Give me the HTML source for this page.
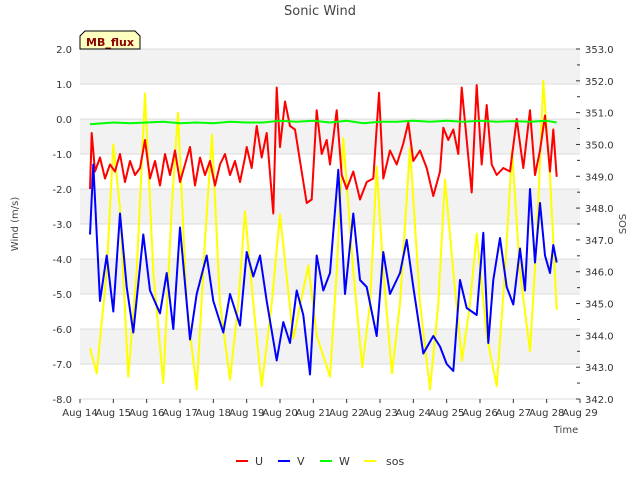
<!DOCTYPE html>
<html><head><meta charset="utf-8"><style>
body{margin:0;background:#fff;font-family:"Liberation Sans","DejaVu Sans",sans-serif}
</style></head><body>
<svg id="chart" width="640" height="480" xmlns="http://www.w3.org/2000/svg" font-family="DejaVu Sans, Liberation Sans, sans-serif" font-size="10">
<text x="320" y="15" text-anchor="middle" font-size="13" fill="#444">Sonic Wind</text>
<g id="bands"></g><g id="grid"></g><g id="axes"></g><g id="series"></g>
<g>
<path d="M80,49 L80,36 L85,31 L135,31 L140,36 L140,49 Z" fill="#ffffc0" stroke="#000" stroke-width="1"/>
<text x="110" y="46" text-anchor="middle" font-size="11" font-weight="bold" fill="#8b0000">MB_flux</text>
</g>
<text x="566" y="433" text-anchor="middle" fill="#444">Time</text>
<text transform="translate(18,224) rotate(-90)" text-anchor="middle" fill="#444">Wind (m/s)</text>
<text transform="translate(626,224) rotate(-90)" text-anchor="middle" fill="#444">SOS</text>
<g font-size="11">
<g><line x1="236" y1="461" x2="248" y2="461" stroke="#f00" stroke-width="2"/><text x="255" y="465" fill="#333">U</text></g>
<g><line x1="278" y1="461" x2="290" y2="461" stroke="#00f" stroke-width="2"/><text x="297" y="465" fill="#333">V</text></g>
<g><line x1="320" y1="461" x2="332" y2="461" stroke="#0f0" stroke-width="2"/><text x="339" y="465" fill="#333">W</text></g>
<g><line x1="364" y1="461" x2="376" y2="461" stroke="#ff0" stroke-width="2"/><text x="386" y="465" fill="#333">sos</text></g>
</g>
</svg>
<script>
const xTickLabels=["Aug 14","Aug 15","Aug 16","Aug 17","Aug 18","Aug 19","Aug 20","Aug 21","Aug 22","Aug 23","Aug 24","Aug 25","Aug 26","Aug 27","Aug 28","Aug 29"];
const yTicks=[2,1,0,-1,-2,-3,-4,-5,-6,-7,-8];
const y2Ticks=[342,343,344,345,346,347,348,349,350,351,352,353];
const uDays=[14.3,14.35,14.45,14.6,14.75,14.9,15.05,15.2,15.35,15.5,15.65,15.8,15.95,16.1,16.25,16.4,16.55,16.7,16.85,17.0,17.15,17.3,17.45,17.6,17.75,17.9,18.05,18.2,18.35,18.5,18.65,18.8,18.95,19.0,19.15,19.3,19.45,19.6,19.8,19.9,20.0,20.15,20.3,20.45,20.6,20.8,20.95,21.1,21.25,21.4,21.5,21.7,21.85,22.0,22.2,22.4,22.6,22.8,22.97,23.1,23.3,23.5,23.7,23.85,24.0,24.2,24.4,24.6,24.8,24.9,25.05,25.2,25.35,25.45,25.6,25.75,25.9,26.05,26.2,26.35,26.5,26.7,26.9,27.1,27.3,27.5,27.65,27.8,27.95,28.1,28.2,28.3];
const uVals=[-2.0,-0.4,-1.5,-1.1,-1.7,-1.3,-1.5,-1.0,-1.8,-1.2,-1.6,-1.4,-0.6,-1.7,-1.2,-1.9,-1.0,-1.6,-0.9,-1.8,-1.3,-0.8,-1.9,-1.1,-1.6,-1.2,-1.9,-1.3,-1.0,-1.6,-1.2,-1.8,-1.1,-0.8,-1.4,-0.2,-1.1,-0.4,-2.7,0.9,-0.8,0.5,-0.2,-0.3,-1.2,-2.4,-2.3,0.25,-1.0,-0.6,-1.3,0.25,-1.6,-2.0,-1.5,-2.3,-1.8,-1.7,0.75,-1.7,-0.9,-1.3,-0.7,-0.1,-1.2,-0.9,-1.4,-2.2,-1.5,-0.25,-0.6,-0.3,-1.0,0.9,-0.6,-2.1,0.97,-1.3,0.4,-1.3,-1.6,-1.4,-1.5,0.0,-1.4,0.25,-1.6,-0.9,0.1,-1.5,-0.3,-1.65];
const vDays=[14.3,14.4,14.6,14.8,15.0,15.2,15.4,15.6,15.9,16.1,16.4,16.6,16.8,17.0,17.3,17.5,17.8,18.0,18.3,18.5,18.8,19.0,19.2,19.4,19.6,19.9,20.1,20.3,20.5,20.7,20.9,21.1,21.3,21.5,21.75,21.95,22.2,22.4,22.6,22.9,23.1,23.3,23.6,23.8,24.0,24.3,24.6,24.8,25.0,25.2,25.4,25.6,25.9,26.1,26.25,26.4,26.6,26.8,27.0,27.2,27.35,27.5,27.65,27.8,27.95,28.1,28.2,28.3];
const vVals=[-3.3,-1.3,-5.2,-3.9,-5.5,-2.7,-4.8,-6.1,-3.3,-4.9,-5.55,-4.4,-6.0,-3.1,-6.3,-5.0,-3.9,-5.2,-6.1,-5.0,-5.9,-3.8,-4.5,-3.9,-5.2,-6.9,-5.8,-6.4,-4.9,-5.6,-7.3,-3.9,-4.9,-4.4,-1.45,-5.0,-2.7,-4.6,-4.8,-6.2,-3.8,-5.0,-4.4,-3.45,-4.8,-6.7,-6.2,-6.5,-7.0,-7.2,-4.6,-5.4,-5.6,-3.25,-6.4,-4.6,-3.4,-4.8,-5.3,-3.7,-4.9,-2.0,-4.1,-2.4,-3.9,-4.4,-3.6,-4.1];
const wDays=[14.3,15.0,15.5,16.0,16.5,17.0,17.5,18.0,18.5,19.0,19.5,20.0,20.5,21.0,21.5,22.0,22.5,23.0,23.5,24.0,24.5,25.0,25.5,26.0,26.5,27.0,27.5,28.0,28.3];
const wVals=[-0.15,-0.1,-0.12,-0.1,-0.08,-0.12,-0.1,-0.12,-0.08,-0.1,-0.1,-0.05,-0.08,-0.05,-0.1,-0.05,-0.12,-0.08,-0.08,-0.05,-0.08,-0.05,-0.08,-0.05,-0.08,-0.06,-0.08,-0.05,-0.1];
const sosDays=[14.3,14.5,14.8,15.0,15.2,15.45,15.7,15.95,16.2,16.5,16.75,16.94,17.2,17.5,17.75,17.96,18.2,18.5,18.75,18.95,19.2,19.45,19.75,20.0,20.4,20.85,21.1,21.5,21.7,21.9,22.2,22.47,22.7,22.9,23.1,23.36,23.6,23.9,24.2,24.5,24.75,24.95,25.2,25.46,25.7,25.9,26.2,26.5,26.75,26.96,27.2,27.5,27.7,27.9,28.1,28.3];
const sosVals=[343.6,342.8,346,350.0,348,342.7,346,351.6,346,342.5,348,351.0,345,342.3,347,350.3,345,342.6,345,347.9,345,342.4,345,347.8,343.9,346.2,344,342.7,346,350.2,346,343.0,345,349.3,346,342.8,345,349.9,345,342.3,345,348.9,346,343.2,345,347.2,344,342.4,346,349.8,346,343.5,347,352.0,349,344.8];
const NS="http://www.w3.org/2000/svg";
const X0=80,X1=580,Y0=49,Y1=399;
const xs=d=>X0+(d-14)/15*(X1-X0);
const yL=v=>Y0+(2-v)/10*(Y1-Y0);
const yR=v=>Y0+(353-v)/11*(Y1-Y0);
function mk(tag,attrs,parent){const e=document.createElementNS(NS,tag);for(const k in attrs)e.setAttribute(k,attrs[k]);parent.appendChild(e);return e;}
const bands=document.getElementById('bands'),grid=document.getElementById('grid'),axes=document.getElementById('axes'),series=document.getElementById('series');
for(let i=0;i<yTicks.length-1;i++){
 const r=mk('rect',{x:X0,y:yL(yTicks[i]),width:X1-X0,height:yL(yTicks[i+1])-yL(yTicks[i]),fill:i%2==0?'#f2f2f2':'#ffffff'},bands);
 
 
}
yTicks.forEach(v=>{
 const l=mk('line',{x1:X0,x2:X1,y1:yL(v),y2:yL(v),stroke:'#dcdcdc'},grid);
 
 
 const t=mk('text',{x:72,y:yL(v)+4,'text-anchor':'end',fill:'#333'},axes);
 
 
 t.textContent=v.toFixed(1);
});
y2Ticks.forEach(v=>{
 const t=mk('text',{x:585,y:yR(v)+4,fill:'#333'},axes);
 
 
 t.textContent=v.toFixed(1);
 const tk=mk('line',{x1:X1,x2:X1-4,y1:yR(v),y2:yR(v),stroke:'#333'},axes);
 
 
 if(v<353){const m=mk('line',{x1:X1,x2:X1-3,y1:yR(v+0.5),y2:yR(v+0.5),stroke:'#333'},axes);
 
 }
});
xTickLabels.forEach((s,i)=>{
 const x=xs(14+i);
 const tk=mk('line',{x1:x,x2:x,y1:Y1,y2:Y1+4,stroke:'#333'},axes);
 
 
 const t=mk('text',{x:x,y:Y1+17,'text-anchor':'middle',fill:'#333'},axes);
 
 
 t.textContent=s;
});
function line(days,vals,yf,color,name){
 const p=mk('polyline',{points:days.map((d,i)=>xs(d).toFixed(1)+','+yf(vals[i]).toFixed(1)).join(' '),fill:'none',stroke:color,'stroke-width':2,'stroke-linejoin':'round'},series);
 
 
}
line(sosDays,sosVals,yR,'#ffff00','sos-line');
line(uDays,uVals,yL,'#ff0000','u-line');
line(vDays,vVals,yL,'#0000ff','v-line');
line(wDays,wVals,yL,'#00ff00','w-line');
</script>
</body></html>
